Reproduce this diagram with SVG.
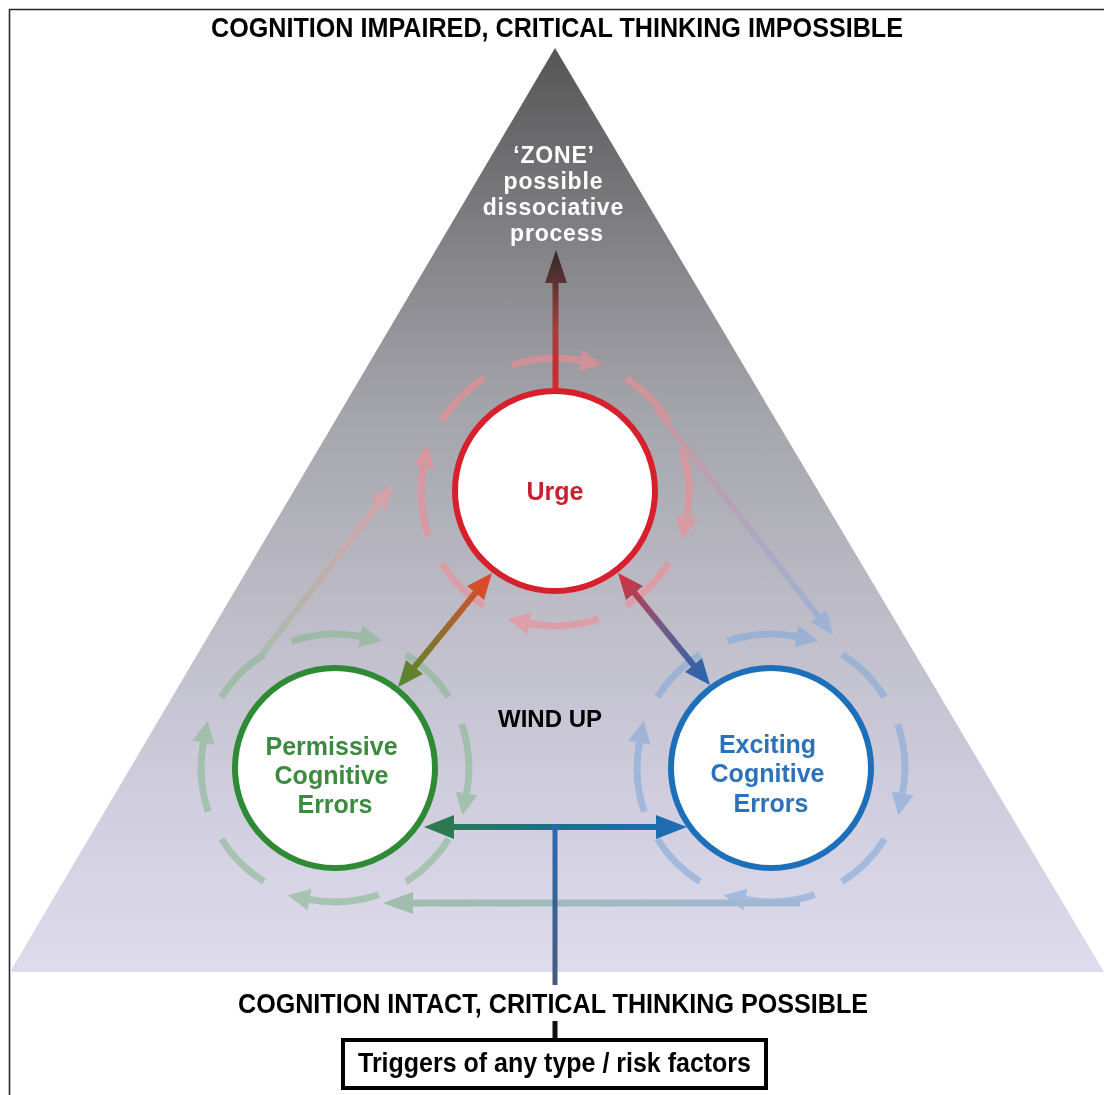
<svg xmlns="http://www.w3.org/2000/svg" xmlns:xlink="http://www.w3.org/1999/xlink" width="1104" height="1095" viewBox="0 0 1104 1095">
  <style>
    .t { font-family: "Liberation Sans", Arial, sans-serif; font-weight: bold; text-anchor: middle; }
    .head { font-size: 27px; fill: #000; }
    .lbl { font-size: 25px; }
    .zone { font-size: 23px; letter-spacing: 0.8px; }
    .ra { fill: none; stroke: currentColor; stroke-width: 7; }
    .rh { fill: currentColor; stroke: none; }
    .node { fill: #fff; stroke-width: 6; }
  </style>
  <defs>
    <linearGradient id="bgTri" x1="0" y1="48" x2="0" y2="972" gradientUnits="userSpaceOnUse">
      <stop offset="0" stop-color="#555555"/>
      <stop offset="0.2" stop-color="#808084"/>
      <stop offset="0.4" stop-color="#a5a5ac"/>
      <stop offset="0.6" stop-color="#bcbbc6"/>
      <stop offset="0.8" stop-color="#cfcddd"/>
      <stop offset="1" stop-color="#dedbec"/>
    </linearGradient>
    <linearGradient id="gUp" x1="555" y1="390" x2="555" y2="250" gradientUnits="userSpaceOnUse">
      <stop offset="0" stop-color="#d8262e"/>
      <stop offset="0.45" stop-color="#a0403a"/>
      <stop offset="1" stop-color="#2e2a2a"/>
    </linearGradient>
    <linearGradient id="gUP" x1="492" y1="573" x2="398" y2="687" gradientUnits="userSpaceOnUse">
      <stop offset="0" stop-color="#e8452a"/>
      <stop offset="0.5" stop-color="#9a6a2a"/>
      <stop offset="1" stop-color="#4e8a2e"/>
    </linearGradient>
    <linearGradient id="gUE" x1="618" y1="573" x2="710" y2="685" gradientUnits="userSpaceOnUse">
      <stop offset="0" stop-color="#d8303c"/>
      <stop offset="0.5" stop-color="#6e5a88"/>
      <stop offset="1" stop-color="#2266b0"/>
    </linearGradient>
    <linearGradient id="gH" x1="425" y1="0" x2="686" y2="0" gradientUnits="userSpaceOnUse">
      <stop offset="0" stop-color="#2e7a48"/>
      <stop offset="0.5" stop-color="#1f6f8a"/>
      <stop offset="1" stop-color="#1e6cb8"/>
    </linearGradient>
    <linearGradient id="gV" x1="0" y1="827" x2="0" y2="990" gradientUnits="userSpaceOnUse">
      <stop offset="0" stop-color="#2a68ae"/>
      <stop offset="1" stop-color="#4a5a78"/>
    </linearGradient>
    <linearGradient id="gL" x1="263" y1="653" x2="393" y2="485" gradientUnits="userSpaceOnUse">
      <stop offset="0" stop-color="#aabcac"/>
      <stop offset="1" stop-color="#d8a0a8"/>
    </linearGradient>
    <linearGradient id="gR" x1="655" y1="408" x2="833" y2="635" gradientUnits="userSpaceOnUse">
      <stop offset="0" stop-color="#c8969f"/>
      <stop offset="1" stop-color="#9bb4d7"/>
    </linearGradient>
    <linearGradient id="gB" x1="815" y1="0" x2="383" y2="0" gradientUnits="userSpaceOnUse">
      <stop offset="0" stop-color="#a0b6d8"/>
      <stop offset="1" stop-color="#a0bea9"/>
    </linearGradient>

    <!-- one quarter of a circulating ring: arrowed arc + plain dash (r = 134) -->
    <g id="ring-quarter">
      <path class="ra" d="M -43.63 -126.70 A 134 134 0 0 1 25.57 -131.54"/>
      <polygon class="rh" points="47.2,-127.3 27.5,-142.4 23.6,-120.7"/>
      <path class="ra" d="M 71.01 -113.64 A 134 134 0 0 1 113.64 -71.01"/>
    </g>
    <g id="ring">
      <use xlink:href="#ring-quarter"/>
      <use xlink:href="#ring-quarter" transform="rotate(90)"/>
      <use xlink:href="#ring-quarter" transform="rotate(180)"/>
      <use xlink:href="#ring-quarter" transform="rotate(270)"/>
    </g>
  </defs>

  <!-- frame -->
  <rect width="1104" height="1095" fill="#fff"/>
  <path d="M 9.5 1095 V 9.5 H 1104" fill="none" stroke="#2a2a2a" stroke-width="1.6"/>

  <!-- gradient triangle -->
  <polygon id="zone-triangle" points="555,48 10,972 1104,972" fill="url(#bgTri)"/>

  <!-- circulating rings around each node -->
  <g id="rings">
    <use xlink:href="#ring" transform="translate(555,492)" style="color:#f08c94" opacity="0.62"/>
    <use xlink:href="#ring" transform="translate(335,768)" style="color:#88b890" opacity="0.6"/>
    <use xlink:href="#ring" transform="translate(771,768)" style="color:#82a8d9" opacity="0.6"/>
  </g>

  <g id="connectors">
    <!-- faded loop arrows between rings -->
    <g id="loop-left">
      <line x1="263" y1="653" x2="380" y2="502" stroke="url(#gL)" stroke-width="6"/>
      <polygon points="393,485 386.2,510.1 370.4,497.9" fill="url(#gL)"/>
    </g>
    <g id="loop-right">
      <line x1="655" y1="408" x2="819" y2="617" stroke="url(#gR)" stroke-width="6"/>
      <polygon points="833,635 810.5,622.1 826.3,609.9" fill="url(#gR)"/>
    </g>
    <g id="loop-bottom">
      <line x1="800" y1="903" x2="410" y2="903" stroke="url(#gB)" stroke-width="7"/>
      <polygon points="383,903 413,892 413,914" fill="url(#gB)"/>
    </g>

    <!-- urge to zone -->
    <g id="urge-zone">
      <line x1="555.5" y1="392" x2="555.5" y2="280" stroke="url(#gUp)" stroke-width="6"/>
      <polygon points="556,250 567,283 545,283" fill="url(#gUp)"/>
    </g>
    <!-- urge <-> permissive -->
    <g id="urge-permissive">
      <line x1="477" y1="591" x2="413" y2="669" stroke="url(#gUP)" stroke-width="6"/>
      <polygon points="492,573 484,600 467,586" fill="url(#gUP)"/>
      <polygon points="398,687 423,674 406,660" fill="url(#gUP)"/>
    </g>
    <!-- urge <-> exciting -->
    <g id="urge-exciting">
      <line x1="633" y1="591" x2="695" y2="667" stroke="url(#gUE)" stroke-width="6"/>
      <polygon points="618,573 626,600.1 643,586.1" fill="url(#gUE)"/>
      <polygon points="710,685 685,671.9 702,657.9" fill="url(#gUE)"/>
    </g>
    <!-- triggers feeding both error nodes -->
    <g id="trigger-split">
      <line x1="450" y1="827" x2="660" y2="827" stroke="url(#gH)" stroke-width="6"/>
      <polygon points="424,827 454,815 454,839" fill="url(#gH)"/>
      <polygon points="687,827 656,815 656,839" fill="url(#gH)"/>
      <line x1="555" y1="824" x2="555" y2="985" stroke="url(#gV)" stroke-width="5"/>
      <line x1="555" y1="1021" x2="555" y2="1042" stroke="#111" stroke-width="5"/>
    </g>
  </g>

  <!-- nodes -->
  <g id="node-urge">
    <circle class="node" cx="555" cy="491" r="100" stroke="#d8202c"/>
    <text class="t lbl" x="555" y="500" fill="#c8202f">Urge</text>
  </g>
  <g id="node-permissive">
    <circle class="node" cx="335" cy="768" r="100" stroke="#2f8a36"/>
    <text class="t lbl" fill="#3c8a40">
      <tspan x="335" y="755">Permissive</tspan>
      <tspan x="335" y="784">Cognitive</tspan>
      <tspan x="335" y="813">Errors</tspan>
    </text>
  </g>
  <g id="node-exciting">
    <circle class="node" cx="771" cy="768" r="100" stroke="#1e6fba"/>
    <text class="t lbl" fill="#2c72b8">
      <tspan x="771" y="753">Exciting</tspan>
      <tspan x="771" y="782">Cognitive</tspan>
      <tspan x="771" y="812">Errors</tspan>
    </text>
  </g>
  <g id="node-zone">
    <text class="t zone" fill="#fff">
      <tspan x="557" y="163">‘ZONE’</tspan>
      <tspan x="557" y="189">possible</tspan>
      <tspan x="557" y="215">dissociative</tspan>
      <tspan x="557" y="241">process</tspan>
    </text>
  </g>
  <g id="node-windup">
    <text class="t" x="550" y="727" font-size="24" fill="#000">WIND UP</text>
  </g>
  <g id="node-triggers">
    <rect x="343" y="1040" width="423" height="48" fill="#fff" stroke="#000" stroke-width="4"/>
    <text class="t head" x="554.5" y="1072" textLength="393" lengthAdjust="spacingAndGlyphs">Triggers of any type / risk factors</text>
  </g>

  <!-- scale labels -->
  <g id="scale-labels">
    <text class="t head" x="557" y="37" textLength="692" lengthAdjust="spacingAndGlyphs">COGNITION IMPAIRED, CRITICAL THINKING IMPOSSIBLE</text>
    <text class="t head" x="553" y="1013" textLength="630" lengthAdjust="spacingAndGlyphs">COGNITION INTACT, CRITICAL THINKING POSSIBLE</text>
  </g>
</svg>
